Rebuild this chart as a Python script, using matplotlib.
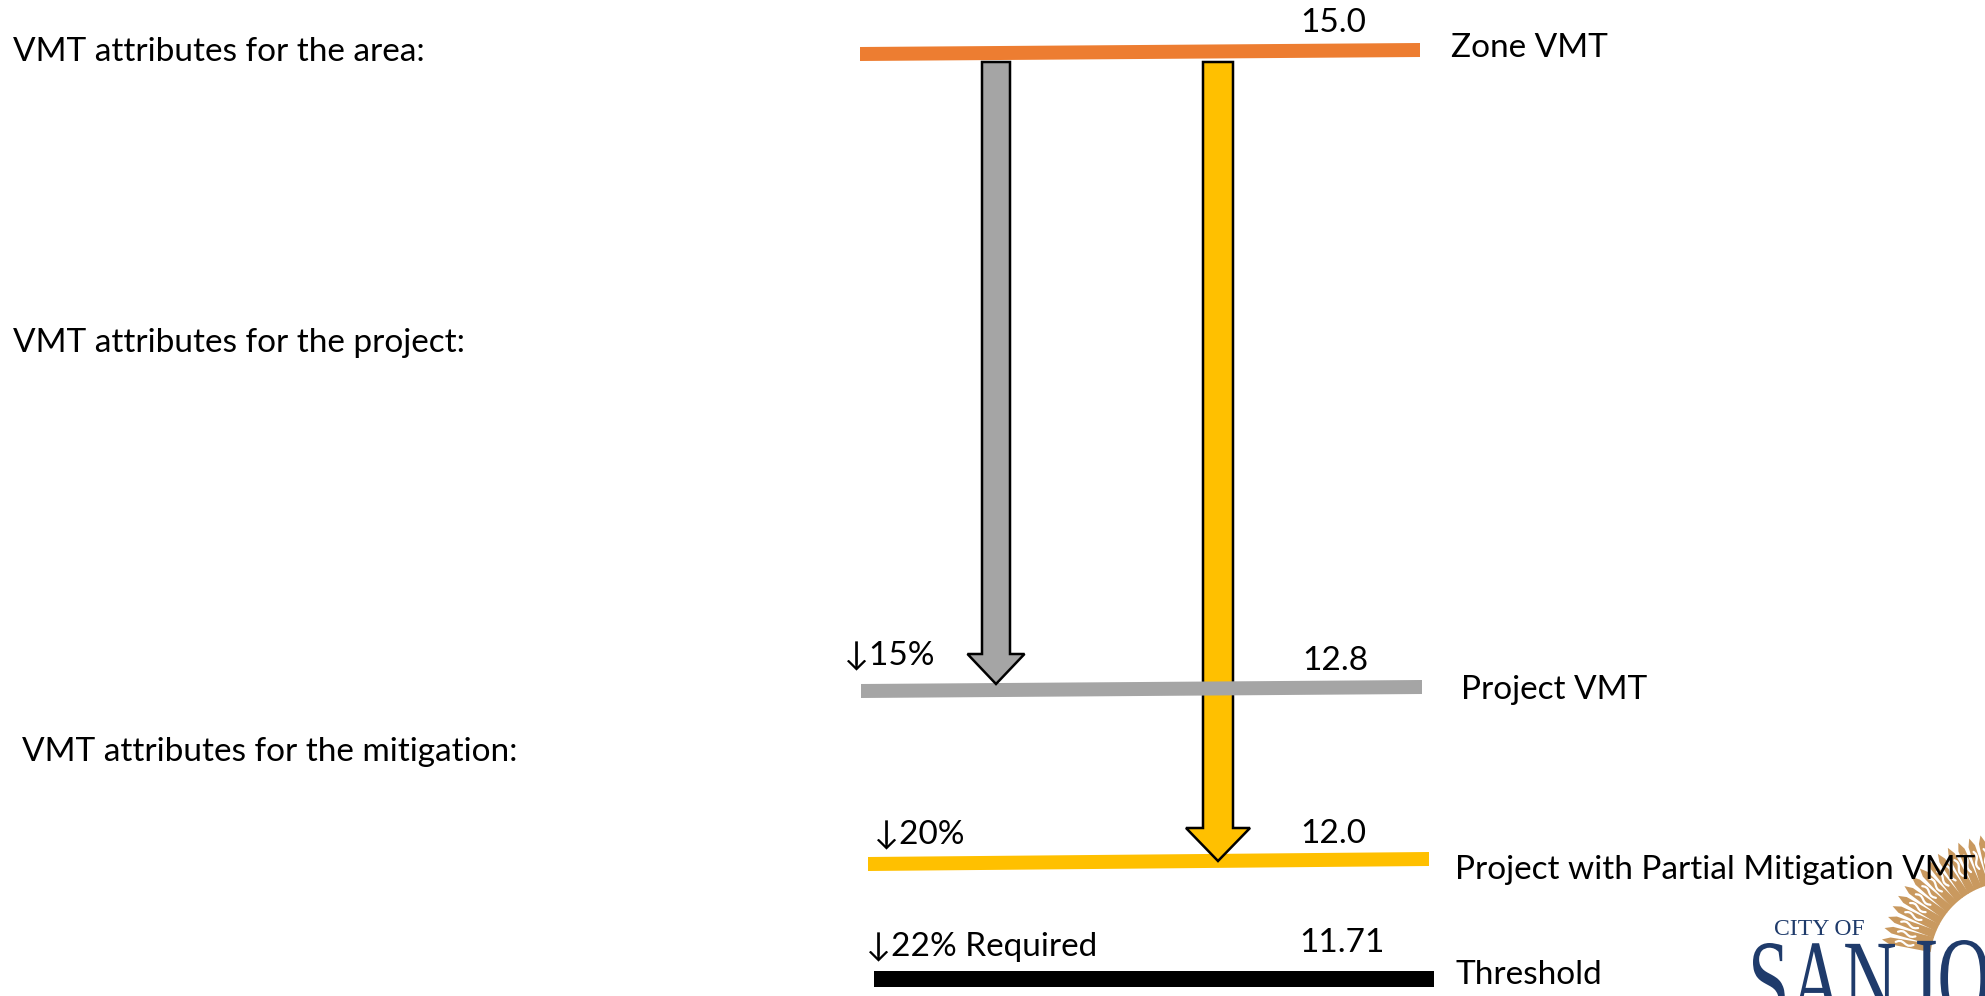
import numpy as np
import matplotlib
matplotlib.use("Agg")
import matplotlib.pyplot as plt
from matplotlib.patches import FancyArrow, Polygon, PathPatch
from matplotlib.textpath import TextPath
from matplotlib.font_manager import FontProperties
from matplotlib.transforms import Affine2D

plt.rcParams['font.family'] = ['Lato', 'DejaVu Sans']

# values shown on the chart
levels = ["Zone VMT", "Project VMT", "Project with Partial Mitigation VMT", "Threshold"]
values = ["15.0", "12.8", "12.0", "11.71"]
changes = ["", "\u219315%", "\u219320%", "\u219322% Required"]
side_notes = ["VMT attributes for the area:", "VMT attributes for the project:",
              "VMT attributes for the mitigation:"]

# layout (pixels of the 1985x996 canvas)
colors = ["#ED7D31", "#A5A5A5", "#FFC000", "#000000"]
bar_x0 = [860, 861, 868, 874]
bar_x1 = [1420, 1422, 1429, 1434]
bar_yl = [54, 691, 864, 979]     # left end centre
bar_yr = [50, 687, 859, 979]     # right end centre
bar_h = [14, 14, 14, 16]
val_xy = [(1333, 23), (1335, 661), (1333, 834), (1342, 943)]
lab_xy = [(1451, 48), (1461, 690), (1455, 870), (1456, 975)]
chg_xy = [(None, None), (844, 655), (874, 834), (866, 947)]
note_xy = [(13, 52), (13, 343), (22, 752)]

fig = plt.figure(figsize=(19.85, 9.96), dpi=100)
ax = fig.add_axes([0, 0, 1, 1])
ax.set_xlim(0, 1985)
ax.set_ylim(996, 0)
ax.axis("off")


def draw_bar(i, z):
    h = bar_h[i] / 2
    pts = [(bar_x0[i], bar_yl[i] - h), (bar_x1[i], bar_yr[i] - h),
           (bar_x1[i], bar_yr[i] + h), (bar_x0[i], bar_yl[i] + h)]
    ax.add_patch(Polygon(pts, closed=True, facecolor=colors[i], edgecolor="none", zorder=z))


draw_bar(0, 2)
draw_bar(2, 2)
draw_bar(3, 2)

# yellow arrow: zone -> partial mitigation
ax.add_patch(FancyArrow(1218, 62, 0, 861 - 62, width=30, head_width=64, head_length=33,
                        length_includes_head=True, facecolor=colors[2], edgecolor="black",
                        linewidth=1.8, zorder=3))
draw_bar(1, 4)
# gray arrow: zone -> project
ax.add_patch(FancyArrow(996, 62, 0, 684 - 62, width=28, head_width=57, head_length=30,
                        length_includes_head=True, facecolor=colors[1], edgecolor="black",
                        linewidth=1.8, zorder=5))

fs = 24
for i in range(4):
    ax.text(val_xy[i][0], val_xy[i][1], values[i], fontsize=fs, ha="center", va="center")
    ax.text(lab_xy[i][0], lab_xy[i][1], levels[i], fontsize=fs, ha="left", va="center", zorder=8)
    if changes[i]:
        ax.text(chg_xy[i][0], chg_xy[i][1], changes[i], fontsize=fs, ha="left", va="center")
for i in range(3):
    ax.text(note_xy[i][0], note_xy[i][1], side_notes[i], fontsize=fs, ha="left", va="center")

# ---- City of San Jose logo, cropped at the corner ----
navy = "#1F3B6B"
tan = "#C9995F"
cx, cy = 2010, 962
r_in, r_out = 80, 130
for a in np.linspace(98, 170, 15):
    t = np.radians([a - 2.9, a - 1.6, a, a + 1.6, a + 2.9])
    rr = [r_in, r_out - 8, r_out, r_out - 8, r_in]
    # y axis is flipped, so screen "up" is minus
    pts = [(cx + r * np.cos(q), cy - r * np.sin(q)) for r, q in zip(rr, t)]
    ax.add_patch(Polygon(pts, closed=True, facecolor=tan, edgecolor="none", zorder=1))
    # thin white wavy slit inside each ray
    rs = np.linspace(r_in + 18, r_out - 14, 8)
    qs = np.radians(a + 0.9 * np.sin(np.linspace(0, 2 * np.pi, 8)))
    ax.plot(cx + rs * np.cos(qs), cy - rs * np.sin(qs), color="white", lw=1.6,
            solid_capstyle="round", zorder=1.5)

ax.text(1774, 929, "CITY OF", fontsize=17, family="Liberation Serif", color=navy,
        ha="left", va="center")

serif = FontProperties(family="Liberation Serif")


def logo_word(word, x_left, y_top, sx, sy):
    p = TextPath((0, 0), word, size=100, prop=serif)
    p = Affine2D().scale(sx, -sy).transform_path(p)
    e = p.get_extents()
    p = Affine2D().translate(x_left - e.x0, y_top - e.y0).transform_path(p)
    ax.add_patch(PathPatch(p, facecolor=navy, edgecolor="none", zorder=6))


w = TextPath((0, 0), "SAN", size=100, prop=serif).get_extents().width
sx = 142 / w
sy = 1.15
logo_word("SAN", 1753, 943, sx, sy)
logo_word("JO", 1910, 940, sx, sy)

fig.savefig("out.png", dpi=100)
